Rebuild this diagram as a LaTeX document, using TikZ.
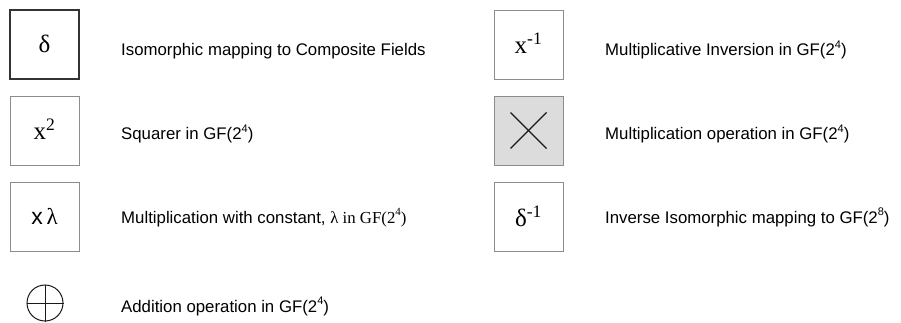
\documentclass[tikz,border=0pt]{standalone}
\usepackage{fontspec}
\setmainfont{Liberation Sans}
\newfontfamily\tnr{Liberation Serif}
\usetikzlibrary{positioning}
\definecolor{boxGray}{HTML}{8C8C8C}
\definecolor{mulFill}{HTML}{DCDCDC}
\newcommand{\pw}[1]{\raisebox{0.45em}{\fontsize{11}{11}\selectfont #1}}

\begin{document}
\begin{tikzpicture}[x=1pt, y=-1pt,
  sym/.style={draw=boxGray, line width=0.8pt, minimum size=69pt, inner sep=0pt, font=\fontsize{25}{28}\selectfont\tnr},
  desc/.style={anchor=base west, inner sep=0pt, font=\fontsize{16.8}{20}\selectfont},
  op/.style={line width=1.1pt, black!90}
]
\useasboundingbox (0,0) rectangle (901,323);
% left column: symbols
\node[sym, draw=black!80, line width=1.2pt] (iso) at (44.5,44.5) {\raisebox{2pt}{δ}};
\node[sym] (sqr) at (44.5,130.5) {\raisebox{2pt}{x\textsuperscript{2}}};
\node[sym] (lam) at (44.5,217) {\raisebox{2pt}{\rmfamily\fontsize{23}{26}\selectfont x\,{\tnr λ}}};
\node[draw=black!90, line width=1pt, circle, minimum size=36pt, inner sep=0pt] (add) at (45,303) {};
\draw[line width=1pt, black!90] (add.north) -- (add.south);
\draw[line width=1pt, black!90] (add.west) -- (add.east);
% left column: descriptions
\node[desc] (isotxt) at (121,56) {Isomorphic mapping to Composite Fields};
\node[desc] (sqrtxt) at (121,140) {Squarer in GF(2\pw{4})};
\node[desc] (lamtxt) at (121,223) {Multiplication with constant, {\tnr λ in GF(2\pw{4})}};
\node[desc] (addtxt) at (121,312) {Addition operation in GF(2\pw{4})};
% right column: symbols
\node[sym] (inv) at (528.5,44.5) {\raisebox{2pt}{x\textsuperscript{-1}}};
\node[sym, fill=mulFill] (mul) at (528.5,130.5) {};
\draw[op] (mul.center) ++(-18,-18) -- ++(36,36);
\draw[op] (mul.center) ++(-18,18) -- ++(36,-36);
\node[sym] (iiso) at (528.5,217) {\raisebox{2pt}{δ\textsuperscript{-1}}};
% right column: descriptions
\node[desc] (invtxt) at (605,56) {Multiplicative Inversion in GF(2\pw{4})};
\node[desc] (multxt) at (605,140) {Multiplication operation in GF(2\pw{4})};
\node[desc] (iisotxt) at (605,223) {Inverse Isomorphic mapping to GF(2\pw{8})};
\end{tikzpicture}
\end{document}
